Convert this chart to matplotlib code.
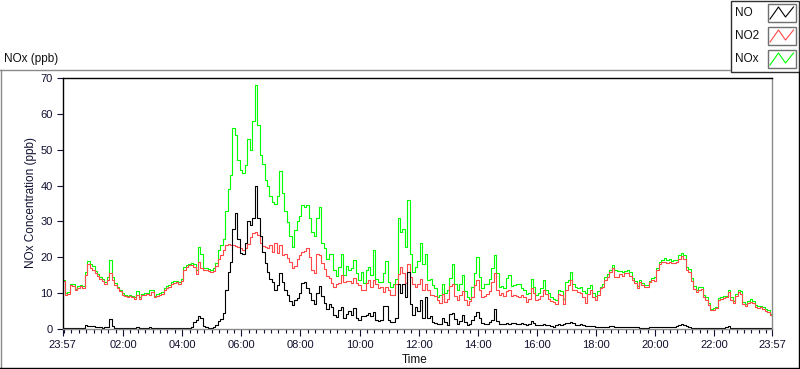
import datetime as dt
import pandas as pd
import matplotlib
matplotlib.use("Agg")
import matplotlib.pyplot as plt
import matplotlib.dates as mdates
from matplotlib.patches import Rectangle
from matplotlib.lines import Line2D

plt.rcParams['font.family'] = ['Liberation Sans', 'DejaVu Sans']

# 5-minute readings, starting 23:57
start = dt.datetime(2000, 1, 1, 23, 57)
times = pd.date_range(start, periods=289, freq='5min')

no = [0.3, 0.2, 0.3, 0.4, 0.3, 0.4, 0.3, 0.3, 0.4, 1.0, 0.9, 0.8, 0.9, 0.6, 0.5, 0.5, 0.4, 0.5, 0.6, 2.8,
      0.7, 0.4, 0.3, 0.3, 0.3, 0.2, 0.3, 0.3, 0.2, 0.3, 0.6, 0.3, 0.2, 0.3, 0.3, 0.6, 0.4, 0.2, 0.3, 0.3,
      0.3, 0.3, 0.4, 0.3, 0.3, 0.4, 0.3, 0.4,
      0.4, 0.4, 0.4, 0.4, 0.6, 2.0, 2.5, 3.5, 3.0, 0.8, 0.5, 0.4, 0.4, 0.6, 1.0, 2.2, 2.8, 4.5, 11.0, 16.0,
      18.8, 28.0, 32.3, 25.0, 21.1, 21.0, 24.0, 30.0, 29.0, 31.0, 40.0, 31.0, 26.0, 21.5, 18.5, 16.0, 14.0,
      13.0, 11.0, 12.3, 15.5, 13.0, 11.0, 9.5, 7.8, 6.7, 8.0, 8.6, 10.0, 12.7, 13.0, 11.3, 10.0,
      8.1, 7.0, 10.0, 12.0, 9.2, 7.2, 5.5, 7.0, 6.0, 4.0, 3.4, 5.3, 6.0, 3.2, 4.2, 5.0, 4.0, 5.8, 3.0, 2.5,
      3.5, 3.5, 4.0, 4.4, 3.5, 4.8, 2.5, 2.3, 2.5, 6.5, 6.5, 2.5, 2.0, 2.0, 3.0, 12.5, 10.0, 12.5, 9.0, 16.0,
      7.0, 3.8, 6.0, 5.0, 8.0, 3.0, 9.0, 3.0, 3.5,
      2.0, 1.8, 1.5, 1.3, 3.0, 2.0, 1.2, 4.2, 4.6, 2.8, 1.5, 2.2, 3.8, 2.0, 1.2, 1.5, 2.5, 3.5, 4.8, 3.0,
      1.8, 1.5, 1.5, 2.0, 2.5, 5.5, 2.2, 1.5, 1.3, 1.5, 1.8, 1.5, 1.6, 1.7, 1.5, 1.4, 1.6, 1.5, 1.1, 1.5,
      2.3, 1.6, 1.0, 1.1, 1.2, 1.5, 1.1, 1.0, 0.8, 0.6,
      1.2, 1.3, 1.2, 1.3, 1.8, 1.8, 2.0, 1.6, 1.2, 1.2, 1.3, 1.0, 0.8, 0.7, 0.7, 0.7, 0.6, 0.6, 0.6, 0.6,
      0.6, 0.6, 0.8, 0.7, 0.6, 0.5, 0.5, 0.5, 0.5, 0.5, 0.5, 0.5, 0.5, 0.5, 0.4, 0.4, 0.4, 0.4, 0.5, 0.5,
      0.6, 0.6, 0.6, 0.6, 0.6, 0.6, 0.6, 0.6, 0.6, 0.7,
      1.0, 1.5, 1.1, 0.7, 0.5, 0.4, 0.4, 0.4, 0.4, 0.4, 0.3, 0.3, 0.3, 0.3, 0.3, 0.3, 0.3, 0.3, 0.3, 0.6,
      0.8, 0.4, 0.3, 0.3, 0.3, 0.3, 0.3, 0.3, 0.3, 0.3, 0.3, 0.2, 0.2, 0.2, 0.2, 0.2, 0.2, 0.2, 0.2]

no2 = [13.3, 9.6, 9.8, 12.3, 12.0, 10.8, 11.5, 12.0, 11.5, 15.0, 18.0, 17.0, 16.5, 15.6, 14.8, 14.0, 13.5,
       12.5, 13.8, 15.5, 13.8, 12.3, 11.4, 10.5, 9.6, 9.2, 8.9, 9.1, 8.9, 8.5, 9.5, 8.4, 9.4, 9.6, 9.7, 9.6,
       10.2, 8.8, 9.3, 9.6, 9.8, 11.0, 11.5, 11.7, 12.5, 12.8, 13.0, 12.5,
       13.5, 16.5, 17.4, 17.8, 17.8, 17.4, 15.2, 18.8, 17.0, 16.5, 16.5, 16.2, 16.0, 16.3, 17.5, 19.5, 20.5,
       22.0, 23.5, 23.8, 23.5, 23.3, 23.2, 22.8, 22.5, 22.0, 22.5, 23.8, 25.7, 26.7, 27.1, 26.3, 24.0, 23.2,
       23.0, 22.5, 23.5, 21.5, 24.0, 21.1, 23.5, 20.6, 21.0, 19.7, 18.8, 16.9, 17.5, 19.5, 20.6, 21.5, 21.8,
       22.5, 20.0,
       16.5, 15.5, 21.0, 20.5, 18.5, 16.8, 14.8, 14.1, 12.8, 11.8, 12.5, 12.7, 15.0, 13.0, 13.5, 13.5, 12.8,
       14.1, 12.8, 12.3, 11.0, 10.9, 12.7, 13.7, 11.8, 13.7, 12.5, 11.5, 11.6, 10.2, 11.8, 10.8, 9.5, 9.5,
       12.5, 15.2, 17.2, 15.5, 12.8, 18.0, 14.5, 12.5, 11.8, 12.5, 14.0, 11.0, 12.5, 11.0, 9.5,
       9.5, 9.2, 8.1, 7.3, 9.9, 7.5, 8.5, 12.0, 12.5, 9.2, 8.1, 9.5, 10.5, 8.0, 6.7, 7.8, 9.0, 12.2, 13.7,
       11.0, 9.0, 9.3, 9.9, 10.5, 13.0, 15.5, 11.0, 9.5, 10.0, 9.2, 10.5, 10.9, 9.3, 9.6, 9.2, 9.0, 9.5, 9.0,
       7.5, 8.5, 11.5, 10.0, 8.0, 8.5, 9.3, 10.8, 9.8, 8.5, 7.8, 7.5,
       6.9, 9.8, 9.5, 7.0, 10.9, 12.3, 13.7, 11.0, 10.9, 10.2, 10.0, 8.8, 7.2, 9.8, 10.9, 9.0, 8.1, 9.6,
       11.3, 11.8, 13.7, 14.6, 16.0, 16.9, 14.6, 14.6, 15.2, 14.8, 15.5, 15.5, 14.8, 13.7, 12.7, 11.3, 13.2,
       12.3, 11.8, 11.8, 13.0, 13.7, 13.5, 16.5, 18.0, 18.6, 18.8, 18.3, 18.6, 18.3, 18.3, 18.6,
       19.6, 20.3, 19.5, 16.5, 16.0, 13.5, 11.2, 10.3, 10.9, 11.1, 9.0, 8.2, 6.7, 5.3, 5.4, 5.8, 8.1, 8.3,
       8.6, 8.8, 10.2, 8.0, 7.2, 9.2, 10.2, 9.8, 6.9, 6.5, 7.3, 7.6, 7.2, 6.2, 5.8, 6.1, 5.5, 5.1, 4.7, 4.0,
       3.6]

nox = [13.6, 10.0, 10.2, 12.6, 12.6, 11.2, 12.0, 12.4, 12.0, 16.0, 19.0, 18.2, 17.5, 16.2, 15.3, 14.5, 14.0,
       13.0, 14.5, 19.3, 14.5, 12.8, 11.8, 10.9, 10.0, 9.6, 9.3, 9.6, 9.3, 8.9, 10.5, 8.8, 9.8, 10.0, 10.1,
       11.0, 10.8, 9.2, 9.7, 10.0, 10.2, 11.4, 11.9, 12.2, 13.0, 13.3, 13.5, 13.0,
       14.0, 17.4, 17.8, 18.2, 18.3, 18.0, 16.5, 23.0, 21.0, 17.0, 16.9, 16.8, 16.5, 17.0, 18.5, 22.0, 23.5,
       25.0, 33.0, 39.0, 43.0, 56.0, 54.0, 47.0, 44.3, 43.5, 45.7, 53.0, 50.0, 58.0, 68.0, 57.0, 48.5, 46.0,
       41.5, 40.0, 37.0, 35.5, 35.0, 37.0, 44.0, 38.0, 33.0, 29.9, 26.0, 23.0, 27.5, 30.0, 31.5, 34.6, 34.0,
       34.6, 31.0,
       27.0, 26.0, 31.0, 34.0, 24.0, 22.5, 19.5, 21.0, 21.0, 16.5, 14.8, 17.4, 21.0, 15.0, 17.5, 16.5, 17.0,
       19.2, 15.5, 13.7, 16.0, 12.7, 16.5, 17.4, 15.0, 22.0, 14.0, 13.0, 13.0, 15.5, 19.0, 13.2, 11.8, 12.5,
       14.0, 31.0, 27.0, 28.0, 23.0, 36.0, 21.0, 16.0, 17.4, 19.0, 23.9, 18.0, 21.0, 13.7, 14.0,
       12.2, 11.5, 9.0, 9.5, 12.5, 10.0, 11.0, 14.3, 18.0, 12.5, 10.9, 12.5, 15.0, 10.5, 9.0, 8.5, 11.8,
       15.5, 20.2, 14.5, 11.3, 12.5, 12.5, 14.0, 17.0, 20.5, 15.5, 11.8, 12.0, 11.5, 14.3, 15.0, 12.0, 12.3,
       12.5, 12.5, 11.3, 10.9, 9.9, 10.0, 14.0, 11.8, 9.5, 10.0, 11.5, 13.7, 11.0, 10.0, 9.0, 8.5,
       8.0, 11.0, 10.5, 8.5, 13.2, 13.7, 16.0, 12.5, 11.8, 11.3, 11.8, 10.5, 10.0, 11.5, 12.3, 10.0, 9.2,
       10.5, 11.8, 12.5, 14.5, 15.2, 16.5, 17.8, 16.5, 16.2, 16.3, 15.8, 16.2, 16.5, 15.8, 14.3, 13.5, 12.0,
       13.8, 12.8, 12.3, 12.3, 13.5, 14.1, 14.5, 16.9, 18.6, 19.2, 19.9, 19.2, 19.4, 19.0, 19.2, 19.2,
       20.5, 21.3, 20.5, 17.4, 16.8, 14.3, 11.9, 10.9, 11.7, 11.8, 9.6, 8.8, 7.2, 5.7, 5.8, 6.2, 8.6, 8.8,
       9.1, 9.3, 10.9, 8.8, 7.7, 9.7, 10.9, 10.5, 7.5, 7.1, 7.9, 8.3, 7.7, 6.7, 6.3, 6.5, 6.1, 5.6, 5.2, 4.2,
       3.9]

series_names = ['NO', 'NO2', 'NOx']
series_colors = ['#000000', '#ff4848', '#00ff00']

W, H = 800, 369
fig = plt.figure(figsize=(W / 100, H / 100), dpi=100)


def fx(x):
    return x / W


def fy(y):
    return 1 - y / H


# outer panel border (LabVIEW style)
border = [((0, 730), (69.5, 69.5), '#8a8a8a'), ((0.5, 0.5), (69.5, 368), '#8a8a8a'),
          ((0, 799), (367.5, 367.5), '#000000'), ((798.5, 798.5), (72, 368), '#000000')]
for xs, ys, c in border:
    fig.add_artist(Line2D([fx(v) for v in xs], [fy(v) for v in ys], color=c, lw=1))

ax = fig.add_axes([fx(62.5), fy(329), (772 - 62.5) / W, (329 - 78) / H])

ax.plot(times, nox, color=series_colors[2], lw=0.8, drawstyle='steps-post')
ax.plot(times, no2, color=series_colors[1], lw=0.8, drawstyle='steps-post')
ax.plot(times, no, color=series_colors[0], lw=0.8, drawstyle='steps-post')

ax.set_ylim(0, 70)
ax.set_yticks(range(0, 71, 10))
end = start + dt.timedelta(hours=24)
ax.set_xlim(start, end)
major = [start] + [dt.datetime(2000, 1, 2, h) for h in range(2, 23, 2)] + [end]
ax.set_xticks(major)
ax.xaxis.set_major_formatter(mdates.DateFormatter('%H:%M'))
ax.xaxis.set_minor_locator(mdates.MinuteLocator(byminute=[0, 15, 30, 45]))

ax.tick_params(axis='y', direction='out', length=4, width=0.8, pad=3, labelsize=8, colors='#101030')
ax.tick_params(axis='x', which='major', direction='out', length=5, width=0.8, pad=3, labelsize=8,
               colors='#101030')
ax.tick_params(axis='x', which='minor', direction='out', length=3, width=0.8, colors='#101030')

ax.spines['top'].set_color('#000000')
ax.spines['left'].set_color('#000000')
ax.spines['right'].set_color('#8a8a8a')
ax.spines['bottom'].set_color('#8a8a8a')
for s in ax.spines.values():
    s.set_linewidth(1)

fig.text(fx(4), fy(59), 'NOx (ppb)', fontsize=8.5, color='#101010', va='center', ha='left')
fig.text(fx(31), fy(203), 'NOx Concentration (ppb)', fontsize=8.5, color='#101030',
         rotation=90, va='center', ha='center')
fig.text(fx(415), fy(360), 'Time', fontsize=8.5, color='#101010', va='center', ha='center')

# legend box
fig.add_artist(Rectangle((fx(730.5), fy(72)), (798.5 - 730.5) / W, 71.5 / H,
                         facecolor='white', edgecolor='#303030', lw=1))
for k, (name, col) in enumerate(zip(series_names, series_colors)):
    top = 4 + k * 23
    fig.text(fx(735), fy(top + 9), name, fontsize=8.5, color='#101010', va='center', ha='left')
    fig.add_artist(Rectangle((fx(767.5), fy(top + 18)), 28 / W, 18 / H,
                             facecolor='white', edgecolor='#707070', lw=1))
    zx = [770, 778.5, 785.5, 793.5]
    zy = [top + 15, top + 3, top + 13, top + 3]
    fig.add_artist(Line2D([fx(v) for v in zx], [fy(v) for v in zy], color=col, lw=0.8))

fig.savefig('out.png', dpi=100)
